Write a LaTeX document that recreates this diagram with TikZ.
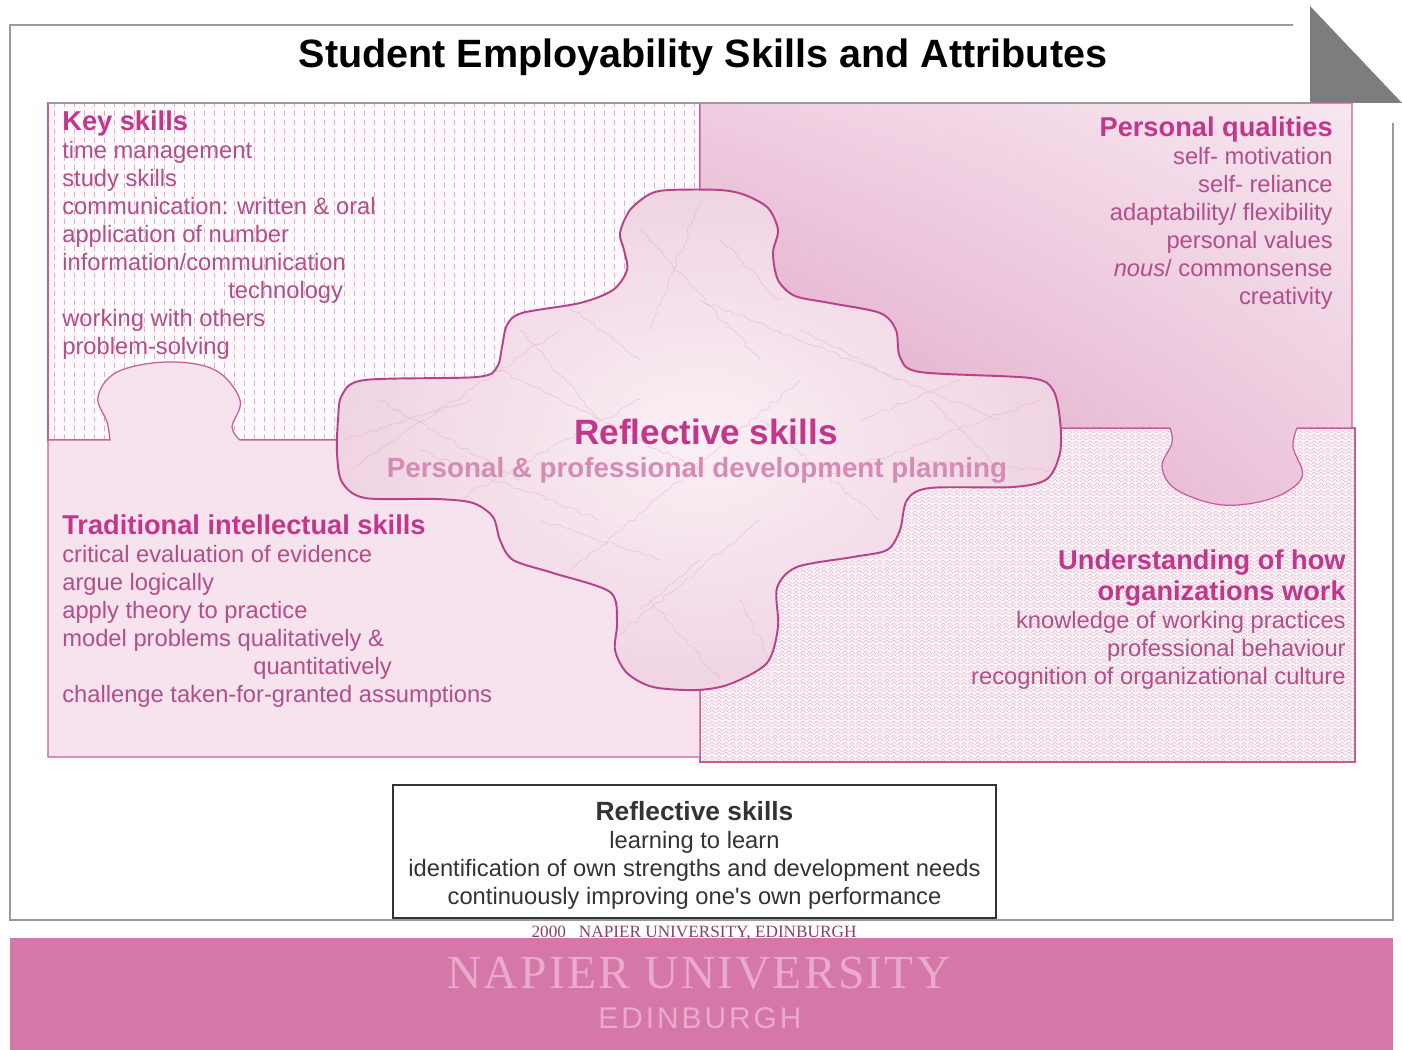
\documentclass[tikz,border=0pt]{standalone}
\usepackage{fontspec}
\setmainfont{Liberation Sans}
\newfontfamily\napserif{Liberation Serif}
\newfontfamily\napserifwide[LetterSpace=5]{Liberation Serif}
\newfontfamily\napwide[LetterSpace=10]{Liberation Sans}
\usetikzlibrary{patterns,shadings,decorations.pathmorphing}

\definecolor{skillpink}{HTML}{C2368C}
\definecolor{itempink}{HTML}{B24E8A}
\definecolor{edgepink}{HTML}{C95A9C}
\definecolor{piecepink}{HTML}{B8418A}
\definecolor{keyfill}{HTML}{FEF9FC}
\definecolor{keydots}{HTML}{E2ABC8}
\definecolor{tradfill}{HTML}{F6E3ED}
\definecolor{orgfill}{HTML}{FDF6F9}
\definecolor{orgweave}{HTML}{EABAD3}
\definecolor{qualUL}{HTML}{F0CDE0}
\definecolor{qualUR}{HTML}{F7E7F0}
\definecolor{qualLL}{HTML}{DB9CC0}
\definecolor{qualLR}{HTML}{EDC9DC}
\definecolor{planpink}{HTML}{D68BB5}
\definecolor{marblemid}{HTML}{FAF0F5}
\definecolor{marbleedge}{HTML}{EFD3E1}
\definecolor{veinpink}{HTML}{D9A0BF}
\definecolor{bannerpink}{HTML}{D677A9}
\definecolor{bannertext}{HTML}{E9AACC}
\definecolor{framegray}{HTML}{9A9A9A}
\definecolor{foldgray}{HTML}{7D7D7D}
\definecolor{boxtext}{HTML}{333333}
\definecolor{creditpink}{HTML}{8C3E6A}

% short vertical dashes of the key skills piece
\pgfdeclarepatternformonly{keydash}{\pgfpointorigin}{\pgfqpoint{5.7pt}{5.1pt}}{\pgfqpoint{5.7pt}{5.1pt}}{%
  \pgfsetlinewidth{0.45pt}%
  \pgfpathmoveto{\pgfqpoint{2.85pt}{0.6pt}}%
  \pgfpathlineto{\pgfqpoint{2.85pt}{3.6pt}}%
  \pgfusepath{stroke}}
% herringbone of the organizations piece
\pgfdeclarepatternformonly{weave}{\pgfpointorigin}{\pgfqpoint{4pt}{4pt}}{\pgfqpoint{4pt}{4pt}}{%
  \pgfsetlinewidth{0.4pt}%
  \pgfpathmoveto{\pgfqpoint{0pt}{0pt}}\pgfpathlineto{\pgfqpoint{2pt}{2pt}}%
  \pgfpathmoveto{\pgfqpoint{0pt}{2pt}}\pgfpathlineto{\pgfqpoint{2pt}{4pt}}%
  \pgfpathmoveto{\pgfqpoint{2pt}{2pt}}\pgfpathlineto{\pgfqpoint{4pt}{0pt}}%
  \pgfpathmoveto{\pgfqpoint{2pt}{4pt}}\pgfpathlineto{\pgfqpoint{4pt}{2pt}}%
  \pgfusepath{stroke}}

\newcommand{\reflpiece}{plot[smooth cycle,tension=0.5] coordinates {
  (670,190) (720,190) (745,195) (768,208) (778,230) (773,253) (778,280) (795,296)
  (830,303) (880,313) (896,330) (900,357) (920,372) (1030,378) (1053,390) (1060,420)
  (1060,453) (1047,479) (1013,487) (930,488) (907,500) (900,530) (887,550) (853,557)
  (797,567) (777,588) (778,627) (767,663) (730,684) (697,690) (653,687) (627,673)
  (615,650) (617,622) (610,592) (553,573) (513,560) (500,540) (493,517) (473,503)
  (437,499) (365,498) (342,482) (337,453) (338,420) (342,395) (365,380) (477,377)
  (497,367) (502,347) (507,325) (522,313) (580,303) (613,290) (627,270) (624,250)
  (620,233) (630,210) (650,194)}}
\newcommand{\skillhead}[1]{{\fontsize{15.5}{16}\selectfont\bfseries\color{skillpink}#1}}

\begin{document}
\begin{tikzpicture}[x=0.02cm,y=-0.02cm,
  region/.style={draw=edgepink,line width=0.7pt},
  skilltxt/.style={inner sep=0pt,text=itempink,font=\fontsize{13.5}{16}\selectfont},
  vein/.style={veinpink,line width=0.25pt,opacity=0.55,
    decorate,decoration={random steps,segment length=3pt,amplitude=1.2pt}}]
\useasboundingbox (0,0) rectangle (1402,1050);
%
\draw[framegray,line width=0.9pt] (1293,25) -- (10,25) -- (10,920) -- (1393,920) -- (1393,123);
\fill[foldgray] (1310,6) -- (1310,103) -- (1402,103) -- cycle;
\node(title) at (703,57) {\fontsize{22.5}{27}\selectfont\bfseries Student Employability Skills and Attributes};
%
\draw[region,preaction={fill=keyfill},pattern=keydash,pattern color=keydots] (48,103) rectangle (700,440);
%
\draw[region,preaction={fill=orgfill},pattern=weave,pattern color=orgweave] (700,428) rectangle (1355,762);
%
\shadedraw[region,upper left=qualUL,upper right=qualUR,lower left=qualLL,lower right=qualLR]
  (700,103) -- (1352,103) -- (1352,428) -- (1297,428)
  -- plot[smooth,tension=0.6] coordinates {(1297,428) (1293,447) (1302,477) (1273,498) (1223,505) (1177,490) (1162,467) (1172,443) (1170,428)}
  -- (700,428) -- cycle;
%
\draw[region,fill=tradfill] (48,757) -- (48,440) -- (110,440)
  -- plot[smooth,tension=0.6] coordinates {(110,440) (107,422) (98,397) (117,372) (167,362) (215,370) (240,400) (232,427) (240,440)}
  -- (700,440) -- (700,757) -- cycle;
\draw[framegray,line width=0.9pt] (48,103) -- (1310,103);
%
\begin{scope}
\clip \reflpiece;
\shade[inner color=marblemid,outer color=marbleedge] (330,180) rectangle (1070,700);
\pgfmathsetseed{7}
\draw[vein] (350,470) -- (560,330) (420,520) -- (640,400) (560,580) -- (800,380)
  (600,650) -- (760,520) (640,230) -- (760,360) (700,300) -- (1000,420)
  (820,480) -- (1040,400) (380,400) -- (520,480) (700,200) -- (650,330)
  (900,460) -- (1050,470) (480,360) -- (700,470) (650,600) -- (720,680)
  (345,440) -- (470,400) (520,330) -- (600,420) (760,420) -- (880,520)
  (800,330) -- (900,380) (930,400) -- (1000,470) (540,520) -- (660,560)
  (640,610) -- (700,560) (740,600) -- (770,660) (560,300) -- (640,360)
  (720,240) -- (780,300) (860,420) -- (960,380) (420,450) -- (600,520);
\end{scope}
\draw[piecepink,line width=1.1pt] \reflpiece;
%
\node(key) [skilltxt,anchor=north west,align=left] at (62,110) {\skillhead{Key skills}\\
  time management\\ study skills\\ communication: written \& oral\\ application of number\\
  information/communication\\ \hspace*{3.32cm}technology\\ working with others\\ problem-solving};
%
\node(personal) [skilltxt,anchor=north east,align=right] at (1333,116) {\skillhead{Personal qualities}\\
  self- motivation\\ self- reliance\\ adaptability/ flexibility\\ personal values\\
  \textit{nous}/ commonsense\\ creativity};
%
\node(trad) [skilltxt,anchor=north west,align=left] at (62,514) {\skillhead{Traditional intellectual skills}\\
  critical evaluation of evidence\\ argue logically\\ apply theory to practice\\
  model problems qualitatively \&\\ \hspace*{3.82cm}quantitatively\\ challenge taken-for-granted assumptions};
%
\node(org) [skilltxt,anchor=north east,align=right] at (1346,549) {\skillhead{Understanding of how}\\[1.7pt]
  \skillhead{organizations work}\\ knowledge of working practices\\ professional behaviour\\
  recognition of organizational culture};
%
\node(refl) at (706,432) [text=skillpink,font=\fontsize{20}{23}\selectfont\bfseries] {Reflective skills};
\node(pdp) at (697,470) [text=planpink,font=\fontsize{15.8}{19}\selectfont\bfseries] {Personal \& professional development planning};
%
\node(reflbox) [draw=boxtext,line width=0.8pt,fill=white,minimum width=12.06cm,minimum height=2.66cm,
  align=center,text=boxtext,font=\fontsize{13.5}{16}\selectfont] at (694.5,851.5)
  {\rule{0pt}{15pt}{\fontsize{15}{16}\selectfont\bfseries Reflective skills}\\ learning to learn\\
   identification of own strengths and development needs\\ continuously improving one\textquotesingle s own performance};
%
\fill[bannerpink] (10,938) rectangle (1393,1050);
\node(credit) at (694,933) [text=creditpink,font=\napserif\fontsize{9.8}{11}\selectfont] {2000\enspace\ NAPIER UNIVERSITY, EDINBURGH};
\node(napier) at (699,973) [text=bannertext,font=\napserifwide\fontsize{27}{30}\selectfont] {NAPIER UNIVERSITY};
\node(edinburgh) at (700,1018) [text=bannertext,font=\napwide\fontsize{17}{20}\selectfont] {EDINBURGH};
\end{tikzpicture}
\end{document}
